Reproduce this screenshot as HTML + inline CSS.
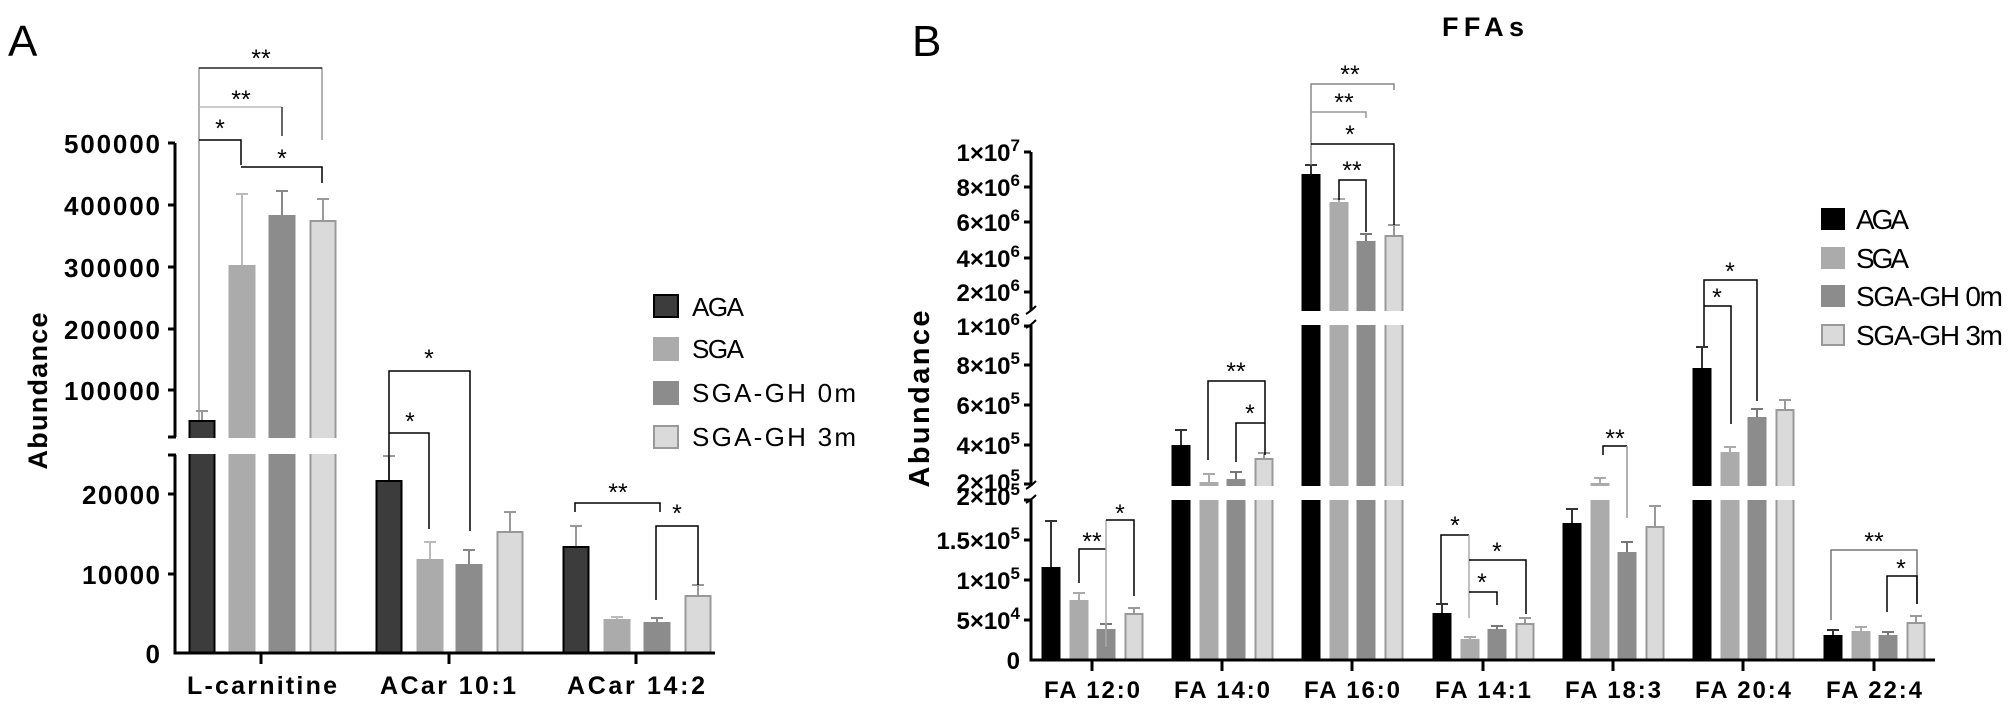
<!DOCTYPE html>
<html><head><meta charset="utf-8"><style>
html,body{margin:0;padding:0;background:#fff}
svg{display:block}
text{font-family:"Liberation Sans",Arial,sans-serif}
.b{font-weight:bold}
</style></head><body>
<svg id="s" width="2008" height="704" viewBox="0 0 2008 704" xmlns="http://www.w3.org/2000/svg">
<g id="bars"></g>
<rect x="180" y="438" width="170" height="16" fill="#fff"/>
<rect x="1034" y="311" width="900" height="14" fill="#fff"/>
<rect x="1034" y="486" width="900" height="14" fill="#fff"/>
<g id="br" fill="none" stroke-width="1.5"></g>
<!-- Panel A axes -->
<g stroke="#000" stroke-width="3" fill="none">
<path d="M175 143 V437 M168 437 H176"/>
<path d="M168 455 H176 M175 455 V653 H715"/>
<path d="M168 143H175 M168 205H175 M168 267H175 M168 329H175 M168 390H175 M168 494H175 M168 574H175"/>
<path d="M261 653V664 M449 653V664 M636 653V664"/>
</g>
<text x="8" y="56" font-size="44">A</text>
<g class="b" font-size="26" text-anchor="end">
<text x="160" y="153" textLength="96">500000</text><text x="160" y="215" textLength="96">400000</text><text x="160" y="277" textLength="96">300000</text>
<text x="160" y="339" textLength="96">200000</text><text x="160" y="400" textLength="96">100000</text><text x="160" y="504" textLength="78">20000</text>
<text x="160" y="584" textLength="78">10000</text><text x="160" y="663">0</text>
</g>
<text class="b" font-size="27" transform="translate(47,391) rotate(-90)" text-anchor="middle" textLength="157">Abundance</text>
<g class="b" font-size="25" text-anchor="middle">
<text x="262" y="694" textLength="150">L-carnitine</text><text x="448" y="694" textLength="136">ACar 10:1</text><text x="636" y="694" textLength="138">ACar 14:2</text>
</g>
<g font-size="26">
<rect x="654" y="295" width="24" height="22" fill="#3c3c3c" stroke="#000" stroke-width="2"/><text x="692" y="316" textLength="52">AGA</text>
<rect x="653" y="337" width="26" height="24" fill="#ababab"/><text x="692" y="358" textLength="52">SGA</text>
<rect x="653" y="381" width="26" height="24" fill="#8c8c8c"/><text x="692" y="402" textLength="164">SGA-GH 0m</text>
<rect x="654" y="426" width="24" height="22" fill="#dadada" stroke="#999" stroke-width="2"/><text x="692" y="446" textLength="164">SGA-GH 3m</text>
</g>
<!-- Panel B axes -->
<g stroke="#000" stroke-width="3" fill="none">
<path d="M1031 152 V311 M1031 325 V486 M1031 500 V660 H1935"/>
<path d="M1024 152H1031 M1024 187H1031 M1024 222H1031 M1024 258H1031 M1024 292H1031 M1024 326H1031 M1024 365H1031 M1024 405H1031 M1024 445H1031 M1024 484H1031 M1024 500H1031 M1024 540H1031 M1024 580H1031 M1024 620H1031"/>
<path d="M1092 660V671 M1222 660V671 M1352 660V671 M1483 660V671 M1613 660V671 M1743 660V671 M1874 660V671"/>
</g>
<g stroke="#000" stroke-width="2" fill="none">
<path d="M1026 314 q5 -3 10 -8 M1026 328 q5 -3 10 -8"/>
<path d="M1026 489 q5 -3 10 -8 M1026 503 q5 -3 10 -8"/>
</g>
<text x="912" y="56" font-size="44">B</text>
<text class="b" x="1442" y="36" font-size="27" textLength="82">FFAs</text>
<g class="b" font-size="24" text-anchor="end">
<text x="1020" y="161">1×10<tspan font-size="17" dy="-10">7</tspan></text>
<text x="1020" y="196">8×10<tspan font-size="17" dy="-10">6</tspan></text>
<text x="1020" y="231">6×10<tspan font-size="17" dy="-10">6</tspan></text>
<text x="1020" y="267">4×10<tspan font-size="17" dy="-10">6</tspan></text>
<text x="1020" y="301">2×10<tspan font-size="17" dy="-10">6</tspan></text>
<text x="1020" y="335">1×10<tspan font-size="17" dy="-10">6</tspan></text>
<text x="1020" y="374">8×10<tspan font-size="17" dy="-10">5</tspan></text>
<text x="1020" y="414">6×10<tspan font-size="17" dy="-10">5</tspan></text>
<text x="1020" y="454">4×10<tspan font-size="17" dy="-10">5</tspan></text>
<text x="1020" y="491">2×10<tspan font-size="17" dy="-10">5</tspan></text>
<text x="1020" y="505">2×10<tspan font-size="17" dy="-10">5</tspan></text>
<text x="1020" y="549">1.5×10<tspan font-size="17" dy="-10">5</tspan></text>
<text x="1020" y="589">1×10<tspan font-size="17" dy="-10">5</tspan></text>
<text x="1020" y="629">5×10<tspan font-size="17" dy="-10">4</tspan></text>
<text x="1020" y="669">0</text>
</g>
<text class="b" font-size="29" transform="translate(929,399) rotate(-90)" text-anchor="middle" textLength="177">Abundance</text>
<g class="b" font-size="24" text-anchor="middle">
<text x="1092" y="698" textLength="96">FA 12:0</text><text x="1222" y="698" textLength="96">FA 14:0</text><text x="1352" y="698" textLength="96">FA 16:0</text>
<text x="1483" y="698" textLength="96">FA 14:1</text><text x="1613" y="698" textLength="96">FA 18:3</text><text x="1743" y="698" textLength="96">FA 20:4</text>
<text x="1874" y="698" textLength="96">FA 22:4</text>
</g>
<g font-size="28">
<rect x="1821" y="208" width="24" height="22" fill="#000"/><text x="1856" y="229" textLength="53">AGA</text>
<rect x="1821" y="247" width="24" height="22" fill="#ababab"/><text x="1856" y="268" textLength="53">SGA</text>
<rect x="1821" y="285" width="24" height="22" fill="#8c8c8c"/><text x="1856" y="306" textLength="147">SGA-GH 0m</text>
<rect x="1822" y="325" width="22" height="20" fill="#dadada" stroke="#999" stroke-width="2"/><text x="1856" y="345" textLength="147">SGA-GH 3m</text>
</g>
<!-- stars -->
<g font-size="25" text-anchor="middle">
<text x="261" y="67">**</text><text x="241" y="108">**</text><text x="220" y="137">*</text><text x="282" y="167">*</text>
<text x="429" y="367">*</text><text x="410" y="430">*</text>
<text x="618" y="501">**</text><text x="677" y="522">*</text>
<text x="1092" y="550">**</text><text x="1120" y="522">*</text>
<text x="1236" y="380">**</text><text x="1250" y="422">*</text>
<text x="1350" y="83">**</text><text x="1344" y="111">**</text><text x="1350" y="143">*</text><text x="1352" y="179">**</text>
<text x="1455" y="534">*</text><text x="1497" y="560">*</text><text x="1482" y="591">*</text>
<text x="1615" y="447">**</text>
<text x="1730" y="280">*</text><text x="1717" y="306">*</text>
<text x="1874" y="550">**</text><text x="1901" y="577">*</text>
</g>
<script>
var NS="http://www.w3.org/2000/svg";
function el(p,t,a){var e=document.createElementNS(NS,t);for(var k in a)e.setAttribute(k,a[k]);p.appendChild(e);return e;}
var G=document.getElementById("bars");
var fillA=["#3c3c3c","#ababab","#8c8c8c","#dadada"],fillB=["#000","#ababab","#8c8c8c","#dadada"];
var strk=["#000",null,null,"#999"];
function bar(cx,top,err,bot,w,i,fills,ec){
 el(G,"line",{x1:cx,y1:top,x2:cx,y2:err,stroke:ec[i],"stroke-width":2});
 el(G,"line",{x1:cx-6,y1:err,x2:cx+6,y2:err,stroke:ec[i],"stroke-width":2});
 var a={x:cx-w/2,y:top,width:w,height:bot-top,fill:fills[i]};
 if(strk[i]){a.x+=1;a.y+=1;a.width-=2;a.height-=1;a.stroke=strk[i];a["stroke-width"]=2;}
 el(G,"rect",a);
}
var ecA=["#999","#bbb","#888","#999"],ecB=["#333","#aaa","#777","#999"];
var A=[[[202,242,282,323],[420,265,215,220],[411,194,191,199]],
[[389,430,469,510],[480,559,564,531],[456,542,550,512]],
[[576,617,657,698],[546,619,622,595],[526,617,618,585]]];
A.forEach(function(g){for(var i=0;i<4;i++)bar(g[0][i],g[1][i],g[2][i],653,27,i,fillA,ecA);});
var cB=[1092,1222,1352,1483,1613,1743,1874],off=[-41,-13,14,42];
var B=[[[567,600,629,613],[521,593,624,608]],
[[445,482,479,458],[430,474,472,453]],
[[174,202,241,235],[165,199,234,225]],
[[613,639,629,623],[604,637,626,618]],
[[523,483,552,526],[509,478,542,506]],
[[368,452,417,409],[347,447,409,400]],
[[635,631,635,622],[630,627,632,616]]];
B.forEach(function(g,j){for(var i=0;i<4;i++)bar(cB[j]+off[i],g[0][i],g[1][i],660,19,i,fillB,ecB);});
var R=document.getElementById("br");
function p(d,c){el(R,"path",{d:d,stroke:c||"#000"});}
p("M199 420V68H322V140","#999");p("M199 68H322","#333");
p("M199 107H282","#bbb");p("M282 107V136","#333");
p("M199 140H241V165");p("M241 167H322V183");
p("M389 480V371H470V531");p("M389 433H429V529");
p("M575 512V503H660V512");p("M656 600V526H698V585");
p("M1079 583V549H1106");p("M1106 520V647","#aaa");p("M1106 520H1134V596");
p("M1208 460V381H1265V455");p("M1236 462V423H1265");
p("M1311 165V84H1394V90","#888");p("M1311 112H1366V118","#999");p("M1311 144H1394V225");p("M1339 200V180H1366V232");
p("M1441 603V535H1469");p("M1469 535V618","#aaa");p("M1469 560H1526V614");p("M1469 592H1497V605");
p("M1603 455V446H1627");p("M1627 446V518","#999");
p("M1704 346V280H1757V401");p("M1704 306H1731V424");
p("M1831 620V550H1917V604","#777");p("M1887 612V576H1917V604");
</script>
</svg>
</body></html>
